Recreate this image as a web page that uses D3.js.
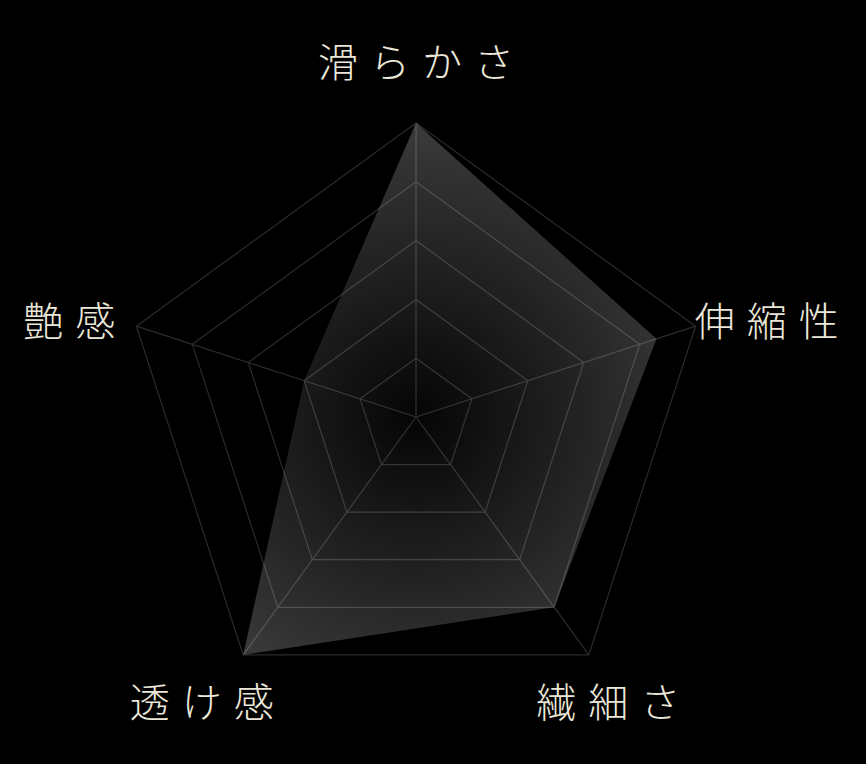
<!DOCTYPE html>
<html>
<head>
<meta charset="utf-8">
<script src="https://cdn.jsdelivr.net/npm/d3@7"></script>
<style>
  html, body { margin: 0; padding: 0; background: #000; }
  svg { display: block; }
</style>
</head>
<body>
<script>
const axes = ["滑らかさ", "伸縮性", "繊細さ", "透け感", "艶感"];
const values = [5, 4.3, 4, 5, 2];
const levels = [1, 2, 3, 4, 5];
const maxValue = 5;

const width = 866,
    height = 764,
    cx = 416,
    cy = 417,
    radius = 294;

const svg = d3.select("body")
    .append("svg")
    .attr("width", width)
    .attr("height", height)
    .style("background", "#000");

const r = d3.scaleLinear().domain([0, maxValue]).range([0, radius]);
const angle = d3.scalePoint().domain(axes).range([0, 2 * Math.PI * (axes.length - 1) / axes.length]);

// angle 0 = straight up, clockwise
const pt = (a, v) => [cx + r(v) * Math.sin(angle(a)), cy - r(v) * Math.cos(angle(a))];

const g = svg.append("g");

// grid pentagons
const ring = d3.line().curve(d3.curveLinearClosed);
g.selectAll("path.grid")
    .data(levels)
    .enter()
    .append("path")
    .attr("class", "grid")
    .attr("d", lv => ring(axes.map(a => pt(a, lv))))
    .attr("fill", "none")
    .attr("stroke", "#2b2b2b")
    .attr("stroke-width", 1.2);

// spokes
g.selectAll("line.spoke")
    .data(axes)
    .enter()
    .append("line")
    .attr("class", "spoke")
    .attr("x1", cx)
    .attr("y1", cy)
    .attr("x2", a => pt(a, maxValue)[0])
    .attr("y2", a => pt(a, maxValue)[1])
    .attr("stroke", "#2b2b2b")
    .attr("stroke-width", 1.2);

// fill gradient, dark at centre
const grad = svg.append("defs").append("radialGradient")
    .attr("id", "fillGrad")
    .attr("gradientUnits", "userSpaceOnUse")
    .attr("cx", cx).attr("cy", cy).attr("r", radius);
grad.append("stop").attr("offset", "0%").attr("stop-color", "#fff").attr("stop-opacity", 0.02);
grad.append("stop").attr("offset", "100%").attr("stop-color", "#fff").attr("stop-opacity", 0.23);

g.append("path")
    .datum(axes.map((a, i) => pt(a, values[i])))
    .attr("d", ring)
    .attr("fill", "url(#fillGrad)")
    .attr("stroke", "none");

// axis labels
const ls = 12;
g.selectAll("text.label")
    .data(axes)
    .enter()
    .append("text")
    .attr("class", "label")
    .attr("x", a => {
        const s = Math.sin(angle(a)), c = Math.cos(angle(a));
        // lower-right label sits a bit further in
        const shift = (s > 0 && c < 0) ? -22 : (Math.abs(s) > 0.9 && s > 0 ? 4 : 0);
        return cx + radius * 1.24 * s + ls / 2 + shift;
    })
    .attr("y", a => {
        const s = Math.sin(angle(a)), c = Math.cos(angle(a));
        return cy - radius * (c > 0.99 ? 1.2 : 1.19) * c + (Math.abs(s) > 0.9 ? 10 : 0) - (c > 0.99 ? 4 : 0);
    })
    .attr("text-anchor", "middle")
    .attr("dominant-baseline", "central")
    .style("font-family", "'Noto Sans CJK JP', sans-serif")
    .style("font-weight", 300)
    .style("font-size", "40px")
    .style("letter-spacing", ls + "px")
    .style("fill", "#ebe7d8")
    .text(a => a);
</script>
</body>
</html>
